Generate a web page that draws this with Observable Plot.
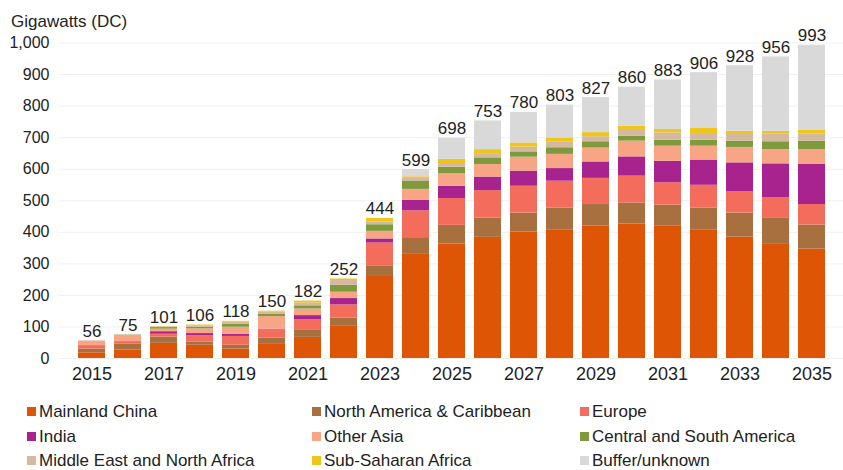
<!DOCTYPE html>
<html>
<head>
<meta charset="utf-8">
<script src="https://cdn.jsdelivr.net/npm/d3@7"></script>
<script src="https://cdn.jsdelivr.net/npm/@observablehq/plot@0.6"></script>
<style>
  body { margin: 0; background: #fff; font-family: "Liberation Sans", Arial, sans-serif; color: #222; }
  #wrap { position: relative; width: 843px; height: 470px; }
  #title { position: absolute; left: 11px; top: 12px; font-size: 17px; line-height: 20px; z-index: 2; }
  #chart { position: absolute; left: 0; top: 0; z-index: 1; }
  #legend { position: absolute; left: 0; top: 402px; width: 843px; font-size: 17px; }
  .item { position: absolute; white-space: nowrap; line-height: 20px; }
  .sw { display: inline-block; width: 9px; height: 9px; margin-right: 3px; vertical-align: 1px; }
</style>
</head>
<body>
<div id="wrap">
  <div id="chart"></div>
  <div id="title">Gigawatts (DC)</div>
  <div id="legend"></div>
</div>
<script>
const years = [2015,2016,2017,2018,2019,2020,2021,2022,2023,2024,2025,2026,2027,2028,2029,2030,2031,2032,2033,2034,2035];
const seriesNames = ["Mainland China","North America & Caribbean","Europe","India","Other Asia","Central and South America","Middle East and North Africa","Sub-Saharan Africa","Buffer/unknown"];
const seriesColors = ["#DF5506","#A8703F","#F46C5C","#A8238E","#F7A585","#7F9A3C","#D4B8A0","#EEC51A","#D9D9D9"];

const mainlandChina = [18,27,48,42,30,47,67,102,260,330,363,384,401,408,420,426,419,408,385,364,347];
const northAmerica  = [12,18,20,10,12,18,22,26,32,53,59,61,60,69,68,67,67,69,76,80,76];
const europe        = [10,6,9,20,28,26,34,42,74,85,85,87,85,85,83,85,71,72,67,65,65];
const india         = [1,2,8,7,7,2,13,20,13,33,39,43,48,40,52,61,68,80,92,108,127];
const otherAsia     = [14,20,8,15,22,40,21,20,24,35,39,40,44,45,44,50,48,44,49,45,47];
const centralSouthAmerica = [0,1,5,5,10,8,10,22,21,25,21,21,17,21,20,16,19,19,20,25,27];
const middleEastNorthAfrica = [1,1,2,5,6,6,9,15,8,10,9,11,15,19,16,21,23,21,24,25,23];
const subSaharanAfrica = [0,0,1,2,3,3,6,5,12,5,16,15,13,12,13,10,11,16,7,8,11];
const bufferUnknown = [0,0,0,0,0,0,0,0,0,23,67,91,97,104,111,124,157,177,208,236,270];
const totals = [56,75,101,106,118,150,182,252,444,599,698,753,780,803,827,860,883,906,928,956,993];
const xTickYears = [2015,2017,2019,2021,2023,2025,2027,2029,2031,2033,2035];
const yTicks = [0,100,200,300,400,500,600,700,800,900,1000];

const seriesValues = [mainlandChina, northAmerica, europe, india, otherAsia, centralSouthAmerica, middleEastNorthAfrica, subSaharanAfrica, bufferUnknown];
const rows = [];
seriesNames.forEach((name, si) => {
  years.forEach((yr, yi) => rows.push({year: yr, series: name, value: seriesValues[si][yi]}));
});
const totalRows = years.map((yr, i) => ({year: yr, total: totals[i]}));

const chart = Plot.plot({
  width: 843,
  height: 395,
  marginLeft: 59,
  marginRight: 0,
  marginTop: 42.5,
  marginBottom: 37,
  style: {fontFamily: '"Liberation Sans", Arial, sans-serif', color: "#222", background: "transparent"},
  x: {type: "band", domain: years, padding: 0.25, label: null},
  y: {domain: [0, 1000], label: null},
  color: {domain: seriesNames, range: seriesColors},
  marks: [
    Plot.gridY(yTicks, {stroke: "#f0f0f0", strokeOpacity: 1}),
    Plot.barY(rows, {x: "year", y: "value", fill: "series"}),
    Plot.text(totalRows, {x: "year", y: "total", text: d => String(d.total), lineAnchor: "bottom", dy: -4, fontSize: 17, fill: "#222"}),
    Plot.axisX({ticks: xTickYears, tickSize: 0, tickPadding: 9, fontSize: 18, tickFormat: d => String(d), label: null}),
    Plot.axisY({ticks: yTicks, tickSize: 0, tickPadding: 10, fontSize: 16, tickFormat: d3.format(","), label: null})
  ]
});
document.getElementById("chart").appendChild(chart);

const legendCols = [27, 312, 580];
const legend = document.getElementById("legend");
seriesNames.forEach((name, i) => {
  const col = i % 3, row = Math.floor(i / 3);
  const el = document.createElement("div");
  el.className = "item";
  el.style.left = legendCols[col] + "px";
  el.style.top = (row * 24.5) + "px";
  el.innerHTML = `<span class="sw" style="background:${seriesColors[i]}"></span>${name}`;
  legend.appendChild(el);
});
</script>
</body>
</html>
